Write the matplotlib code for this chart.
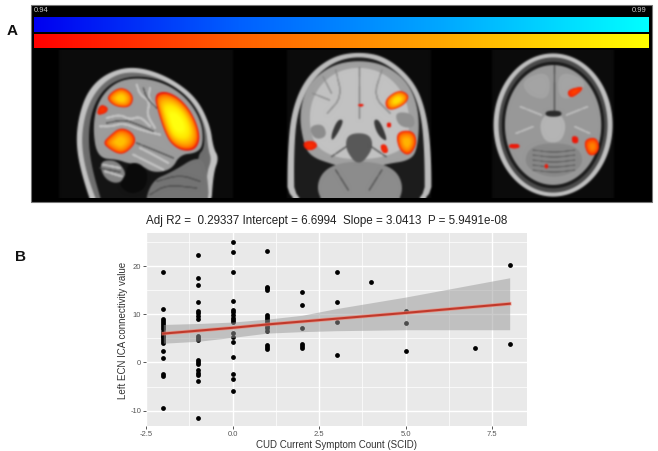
import numpy as np
import matplotlib
matplotlib.use('Agg')
import matplotlib.pyplot as plt
from matplotlib.colors import LinearSegmentedColormap
from matplotlib.patches import Polygon

plt.rcParams['font.family'] = ['Liberation Sans', 'DejaVu Sans']
plt.rcParams['axes.unicode_minus'] = False

# scatter values, one list per symptom count
symptoms = [-2, -1, 0, 1, 2, 3, 4, 5, 7, 8]
conn_m2 = [18.75, 11.1, 9.1, 8.7, 8.2, 7.8, 7.3, 6.9, 6.4, 6.0, 5.6, 5.2, 4.8, 4.4, 4.1, 2.4, 1.0, -2.3, -2.8, -9.5]
conn_m1 = [22.4, 17.6, 16.1, 12.5, 10.7, 10.2, 9.7, 9.0, 5.5, 5.1, 4.6, 0.5, 0.0, -0.4, -1.6, -2.1, -2.6, -3.8, -11.5]
conn_0 = [25.0, 23.0, 18.9, 12.7, 10.9, 10.4, 9.8, 9.3, 8.8, 8.4, 6.2, 5.3, 4.2, 1.2, -2.4, -3.5, -6.0]
conn_1 = [23.2, 15.7, 15.4, 15.0, 9.8, 9.4, 9.0, 8.6, 8.1, 7.6, 7.1, 6.5, 3.6, 3.3, 2.9]
conn_2 = [14.6, 11.9, 7.1, 3.8, 3.4, 3.0]
conn_3 = [18.8, 12.6, 8.4, 1.5]
conn_4 = [16.7]
conn_5 = [10.7, 8.2, 2.4]
conn_7 = [3.1]
conn_8 = [20.3, 3.9]
conn_all = [conn_m2, conn_m1, conn_0, conn_1, conn_2, conn_3, conn_4, conn_5, conn_7, conn_8]

# regression line and its ribbon
fit_x = [-2, -1, 0, 1, 2, 3, 5, 8]
fit_y = [6.0, 6.6, 7.2, 7.9, 8.5, 9.1, 10.3, 12.2]
ci_up = [7.9, 8.1, 8.4, 9.0, 9.8, 11.2, 13.6, 17.6]
ci_lo = [4.0, 4.4, 5.2, 6.1, 6.4, 6.6, 6.8, 6.8]

title_txt = 'Adj R2 =  0.29337 Intercept = 6.6994  Slope = 3.0413  P = 5.9491e-08'
xticks = [-2.5, 0.0, 2.5, 5.0, 7.5]
yticks = [-10, 0, 10, 20]

# the brain slices are drawn on a scratch figure, then softened and pasted in
brain_fig = plt.figure(figsize=(6.58, 4.51), dpi=100, facecolor='black')
pix = brain_fig.add_axes([0, 0, 1, 1])
pix.axis('off')
pix.set_xlim(0, 658)
pix.set_ylim(451, 0)


def smooth(pts, rounds=3):
    # corner cutting so that hand-read outlines look organic
    p = np.array(pts, dtype=float)
    for _ in range(rounds):
        q = np.roll(p, -1, axis=0)
        p = np.column_stack([0.75 * p + 0.25 * q, 0.25 * p + 0.75 * q]).reshape(-1, 2)
    return p


def sag(pts):
    return [(40 + x / 3, 48 + y / 3) for x, y in pts]


def ov(pts):
    return [(x / 2.383, y / 3) for x, y in pts]


def blob(pts, color, z=2):
    pix.add_patch(Polygon(smooth(pts), closed=True, fc=color, ec='none', zorder=z))


def curve(pts, color, lw=1.0, z=3):
    p = smooth(pts + pts[::-1], rounds=2)
    pix.plot(p[:, 0], p[:, 1], color=color, lw=lw, zorder=z, solid_capstyle='round', alpha=0.75)


hot = LinearSegmentedColormap.from_list('hot2', ['#ee1808', '#ff4000', '#ff8000', '#ffb400', '#ffe800', '#ffff10'])


def hotspot(pts, peak=1.0, z=6):
    # nested copies shrinking to the middle, red rim to yellow core
    s = smooth(pts)
    c = s.mean(axis=0)
    for i, f in enumerate(np.linspace(1, 0.3, 12)):
        col = hot(peak * (i / 11) ** 0.5)
        pix.add_patch(Polygon(c + (s - c) * f, closed=True, fc=col, ec='none', zorder=z + i * 0.01))


for x0, x1 in [(59, 233), (287, 431), (492, 614)]:
    pix.add_patch(plt.Rectangle((x0, 50), x1 - x0, 148, fc='#0b0b0b', ec='none', zorder=1))

# sagittal slice
blob(sag([(165, 500), (125, 380), (108, 290), (115, 210), (140, 135), (185, 85), (250, 58), (320, 62), (400, 95),
          (470, 150), (510, 230), (520, 300), (537, 330), (520, 375), (512, 500)]), '#c2c2c2')
blob(sag([(185, 500), (140, 380), (124, 290), (132, 210), (157, 145), (197, 98), (250, 72), (320, 76), (395, 108),
          (460, 160), (498, 235), (505, 305), (515, 335), (500, 375), (495, 500)]), '#6e6e6e')
blob(sag([(190, 480), (150, 340), (145, 240), (165, 160), (210, 105), (280, 82), (370, 95), (445, 145), (490, 220),
          (495, 300), (470, 325), (470, 500), (200, 500)]), '#141414')
blob(sag([(172, 330), (158, 240), (173, 160), (223, 103), (290, 88), (370, 103), (440, 148), (485, 220), (490, 290),
          (470, 315), (420, 320), (395, 365), (340, 375), (300, 350), (260, 345), (235, 335)]), '#9c9c9c', z=3)
blob(sag([(178, 340), (225, 335), (255, 365), (255, 395), (225, 408), (190, 388)]), '#858585', z=3)
blob(sag([(330, 400), (400, 370), (470, 325), (500, 350), (510, 500), (310, 500)]), '#747474', z=3)
blob(sag([(265, 345), (300, 345), (325, 375), (315, 425), (270, 440), (235, 410), (255, 385)]), '#0a0a0a', z=3.5)
for line in [[(200, 210), (240, 200), (270, 215), (300, 205), (330, 235)],
             [(290, 110), (300, 140), (330, 160), (320, 200), (345, 240)],
             [(180, 235), (215, 235), (250, 225), (300, 245), (360, 260)],
             [(300, 300), (340, 320), (385, 345)], [(280, 320), (330, 345), (370, 365)],
             [(190, 350), (240, 360)], [(195, 370), (245, 385)], [(330, 120), (325, 150), (345, 175)]]:
    curve(sag(line), '#d0d0d0', lw=1.4, z=4)
for line in [[(200, 225), (250, 215), (290, 228), (340, 250)], [(310, 120), (320, 150), (350, 180)],
             [(290, 285), (340, 305), (400, 330)], [(350, 400), (420, 380), (480, 400)],
             [(180, 360), (240, 372)], [(330, 440), (380, 410), (470, 420)]]:
    curve(sag(line), '#4c4c4c', lw=0.9, z=4)
hotspot(sag([(342, 140), (375, 128), (420, 150), (460, 200), (482, 265), (468, 305), (430, 310), (395, 290),
             (375, 255), (355, 195)]))
hotspot(sag([(200, 145), (235, 118), (265, 125), (282, 150), (270, 178), (235, 178), (210, 165)]), peak=0.7)
hotspot(sag([(168, 203), (180, 168), (205, 178), (200, 195)]), peak=0.15)
hotspot(sag([(188, 285), (210, 262), (240, 238), (275, 250), (290, 280), (265, 310), (240, 320), (210, 305)]), peak=0.65)

# coronal slice
blob(ov([(685, 640), (685, 460), (695, 330), (730, 230), (790, 170), (855, 155), (920, 170), (985, 240), (1015, 330),
         (1028, 460), (1028, 640)]), '#bcbcbc')
blob(ov([(702, 640), (700, 460), (708, 335), (742, 240), (795, 185), (855, 168), (915, 185), (975, 248), (1003, 335),
         (1012, 460), (1012, 640)]), '#1c1c1c')
blob(ov([(725, 440), (712, 340), (735, 250), (790, 195), (855, 180), (920, 195), (975, 250), (1000, 340), (995, 450),
         (975, 482), (920, 492), (855, 515), (790, 492), (745, 472)]), '#a0a0a0', z=3)
blob(ov([(745, 430), (735, 340), (755, 265), (800, 215), (855, 200), (910, 215), (955, 265), (978, 340), (970, 440),
         (920, 470), (855, 480), (790, 470)]), '#c2c2c2', z=3.2)
blob(ov([(775, 500), (855, 480), (940, 500), (965, 570), (930, 640), (790, 640), (750, 570)]), '#8c8c8c', z=3)
blob(ov([(830, 400), (880, 400), (890, 440), (870, 480), (855, 490), (840, 480), (822, 440)]), '#585858', z=4)
blob(ov([(805, 358), (820, 360), (805, 400), (790, 425), (790, 400)]), '#383838', z=4)
blob(ov([(890, 358), (905, 360), (925, 425), (908, 415), (895, 390)]), '#383838', z=4)
blob(ov([(735, 380), (770, 370), (780, 410), (750, 420)]), '#8c8c8c', z=3.5)
blob(ov([(940, 335), (985, 340), (990, 385), (950, 380)]), '#909090', z=3.5)
for line in [[(800, 210), (815, 290), (780, 340)], [(910, 210), (890, 290), (930, 340)],
             [(745, 280), (785, 300)], [(965, 280), (925, 300)], [(770, 230), (790, 280)]]:
    curve(ov(line), '#8a8a8a', lw=1.0, z=4)
curve(ov([(855, 200), (855, 355)]), '#6e6e6e', lw=0.9, z=4)
for line in [[(790, 470), (825, 440)], [(920, 470), (885, 440)], [(800, 510), (830, 570)], [(910, 510), (880, 570)]]:
    curve(ov(line), '#4c4c4c', lw=0.9, z=4)
hotspot(ov([(915, 300), (950, 268), (977, 285), (965, 315), (925, 335)]), peak=0.75)
hotspot(ov([(943, 395), (985, 390), (995, 430), (975, 470), (950, 450)]), peak=0.6)
hotspot(ov([(722, 425), (750, 422), (758, 440), (740, 453), (725, 445)]), peak=0.12)
hotspot(ov([(905, 435), (920, 432), (926, 458), (912, 460)]), peak=0.1)
hotspot(ov([(922, 368), (932, 368), (932, 382), (922, 382)]), peak=0)
hotspot(ov([(854, 312), (866, 312), (866, 319), (854, 319)]), peak=0)

# axial slice
t = np.linspace(0, 2 * np.pi, 60, endpoint=False)


def ellipse_pts(cx, cy, rx, ry):
    return ov(list(zip(cx + rx * np.cos(t), cy + ry * np.sin(t))))


blob(ellipse_pts(1318, 375, 142, 215), '#c0c0c0')
blob(ellipse_pts(1318, 375, 130, 203), '#4a4a4a')
blob(ellipse_pts(1318, 375, 122, 190), '#1a1a1a')
blob(ellipse_pts(1318, 375, 115, 180), '#989898', z=3)
blob(ov([(1300, 340), (1335, 340), (1350, 375), (1340, 420), (1318, 430), (1295, 420), (1285, 375)]), '#b4b4b4', z=4)
blob(ov([(1300, 332), (1338, 332), (1338, 350), (1300, 350)]), '#2a2a2a', z=4.2)
blob(ov([(1265, 430), (1375, 430), (1395, 500), (1320, 540), (1245, 500)]), '#888888', z=3.5)
blob(ov([(1240, 240), (1310, 210), (1310, 300), (1260, 290)]), '#a4a4a4', z=3.5)
blob(ov([(1330, 210), (1400, 240), (1380, 290), (1330, 300)]), '#a4a4a4', z=3.5)
curve(ov([(1320, 195), (1320, 330)]), '#3c3c3c', lw=0.9, z=4)
for y in [450, 465, 480, 495, 510]:
    curve(ov([(1270, y), (1320, y + 8), (1370, y)]), '#555555', lw=0.6, z=4)
for line in [[(1240, 320), (1290, 345)], [(1400, 320), (1350, 345)], [(1230, 400), (1270, 380)], [(1405, 400), (1370, 380)]]:
    curve(ov(line), '#c8c8c8', lw=1.1, z=4)
hotspot(ov([(1350, 270), (1390, 258), (1385, 275), (1358, 297)]), peak=0.2)
hotspot(ov([(1390, 420), (1420, 410), (1430, 440), (1420, 466), (1400, 466)]), peak=0.4)
hotspot(ov([(1213, 432), (1238, 432), (1238, 445), (1213, 445)]), peak=0)
hotspot(ov([(1362, 408), (1378, 410), (1378, 430), (1364, 430)]), peak=0)
hotspot(ov([(1298, 493), (1306, 493), (1306, 505), (1298, 505)]), peak=0)

brain_fig.canvas.draw()
slices = np.asarray(brain_fig.canvas.buffer_rgba())[50:198, 33:650, :3] / 255.0
plt.close(brain_fig)
kernel = np.exp(-0.5 * (np.arange(-3, 4) / 0.9) ** 2)
kernel = kernel / kernel.sum()
for axis in (0, 1):
    slices = np.apply_along_axis(lambda v: np.convolve(np.pad(v, 3, mode='edge'), kernel, mode='valid'), axis, slices)

fig = plt.figure(figsize=(6.58, 4.51), dpi=100, facecolor='white')
over = fig.add_axes([0, 0, 1, 1])
over.axis('off')

# black panel, colour bars, slices
over.add_patch(plt.Rectangle((31, 5), 621, 197, fc='black', ec='#777777', lw=0.8, zorder=0))
grad = np.linspace(0, 1, 256).reshape(1, -1)
cool = LinearSegmentedColormap.from_list('b', ['#0000f0', '#0060ff', '#00a8ff', '#00ffff'])
warm = LinearSegmentedColormap.from_list('r', ['#ff0000', '#ff6000', '#ffa800', '#ffff00'])
over.imshow(grad, cmap=cool, extent=(33.5, 648, 31.7, 17.3), aspect='auto', zorder=2)
over.imshow(grad, cmap=warm, extent=(33.5, 648, 48, 34), aspect='auto', zorder=2)
over.imshow(slices, extent=(33, 650, 198, 50), aspect='auto', zorder=2, interpolation='nearest')
over.set_xlim(0, 658)
over.set_ylim(451, 0)
over.text(33.5, 10.5, '0.94', color='#cccccc', fontsize=5.5, va='center', ha='left')
over.text(647, 10.5, '0.99', color='#cccccc', fontsize=5.5, va='center', ha='right')
over.text(12, 31, 'A', fontsize=11, fontweight='bold', color='#111111', ha='center', va='center')
over.text(21, 257, 'B', fontsize=11, fontweight='bold', color='#111111', ha='center', va='center')
over.text(327, 221, title_txt, fontsize=8.4, color='#222222', ha='center', va='center')
over.text(336, 445, 'CUD Current Symptom Count (SCID)', fontsize=7, color='#333333', ha='center', va='center')
over.text(123, 330, 'Left ECN ICA connectivity value', fontsize=7, color='#333333', ha='center', va='center', rotation=90)

# panel B scatter
left, right, top, bottom = 146, 527, 233, 426
ax = fig.add_axes([left / 658, 1 - bottom / 451, (right - left) / 658, (bottom - top) / 451])
ax.set_facecolor('#e9e9e9')
ax.set_xlim(-2.5, 8.5)
ax.set_ylim(-13.2, 26.9)
ax.set_xticks(xticks)
ax.set_xticklabels([f'{v:.1f}' for v in xticks])
ax.set_yticks(yticks)
ax.set_xticks([-1.25, 1.25, 3.75, 6.25], minor=True)
ax.set_yticks([-5, 5, 15, 25], minor=True)
ax.grid(True, which='major', color='white', lw=1.0)
ax.grid(True, which='minor', color='white', lw=0.5)
ax.set_axisbelow(True)
for s in ax.spines.values():
    s.set_visible(False)
ax.tick_params(axis='both', which='major', length=2, width=0.7, color='#555555', labelsize=5.5, labelcolor='#555555', pad=1.5)
ax.tick_params(axis='both', which='minor', length=0)

for sx, vals in zip(symptoms, conn_all):
    ax.scatter([sx] * len(vals), vals, s=12, color='black', linewidths=0, zorder=3)
ax.fill_between(fit_x, ci_lo, ci_up, color='#999999', alpha=0.5, lw=0, zorder=4)
ax.plot(fit_x, fit_y, color='#f08070', lw=2.6, alpha=0.7, zorder=5)
ax.plot(fit_x, fit_y, color='#c0392b', lw=1.5, zorder=6)

fig.savefig('out.png', dpi=100)
